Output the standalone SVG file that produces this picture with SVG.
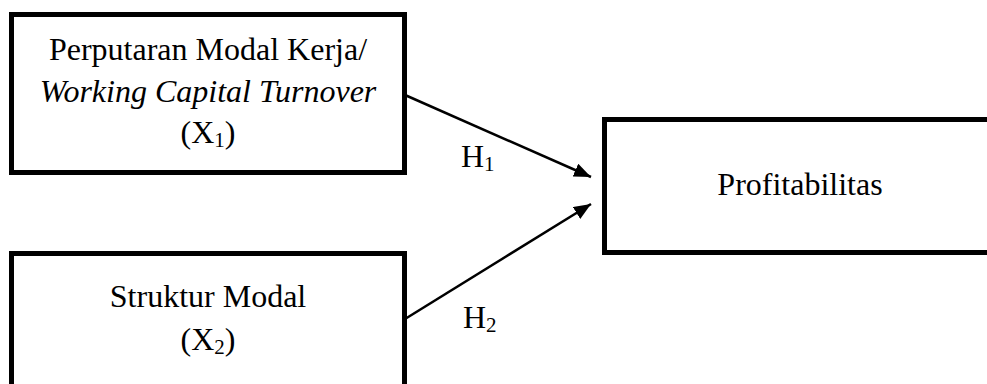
<svg xmlns="http://www.w3.org/2000/svg" width="987" height="384" viewBox="0 0 987 384">
<defs>
<style>
.box{fill:#fff;stroke:#000;stroke-width:5}
.t{font-family:"Liberation Serif","Times New Roman",serif;font-size:32px;fill:#000}
.c{text-anchor:middle}
.sub{font-size:21px}
.con{stroke:#000;stroke-width:2.5;fill:none}
</style>
<marker id="ah" markerUnits="userSpaceOnUse" markerWidth="18" markerHeight="14" refX="17" refY="7" orient="auto">
<path d="M0,0 L17,7 L0,14 Z" fill="#000"/>
</marker>
</defs>
<rect width="987" height="384" fill="#fff"/>
<g id="connectors">
<line class="con" x1="405" y1="95" x2="591" y2="177" marker-end="url(#ah)"/>
<line class="con" x1="405" y1="319" x2="591" y2="204" marker-end="url(#ah)"/>
<text class="t" x="461" y="167">H<tspan class="sub" dy="4">1</tspan></text>
<text class="t" x="463" y="328">H<tspan class="sub" dy="4">2</tspan></text>
</g>
<g id="x1">
<rect class="box" x="11.5" y="14.5" width="393" height="158"/>
<text class="t c" x="208" y="60">Perputaran Modal Kerja/</text>
<text class="t c" x="208" y="102" font-style="italic">Working Capital Turnover</text>
<text class="t c" x="208" y="143">(X<tspan class="sub" dy="4">1</tspan><tspan dy="-4">)</tspan></text>
</g>
<g id="x2">
<rect class="box" x="11.5" y="253.5" width="393" height="150"/>
<text class="t c" x="208" y="307">Struktur Modal</text>
<text class="t c" x="208" y="350">(X<tspan class="sub" dy="4">2</tspan><tspan dy="-4">)</tspan></text>
</g>
<g id="y">
<rect class="box" x="604.5" y="119.5" width="400" height="133"/>
<text class="t c" x="800" y="195">Profitabilitas</text>
</g>
</svg>
